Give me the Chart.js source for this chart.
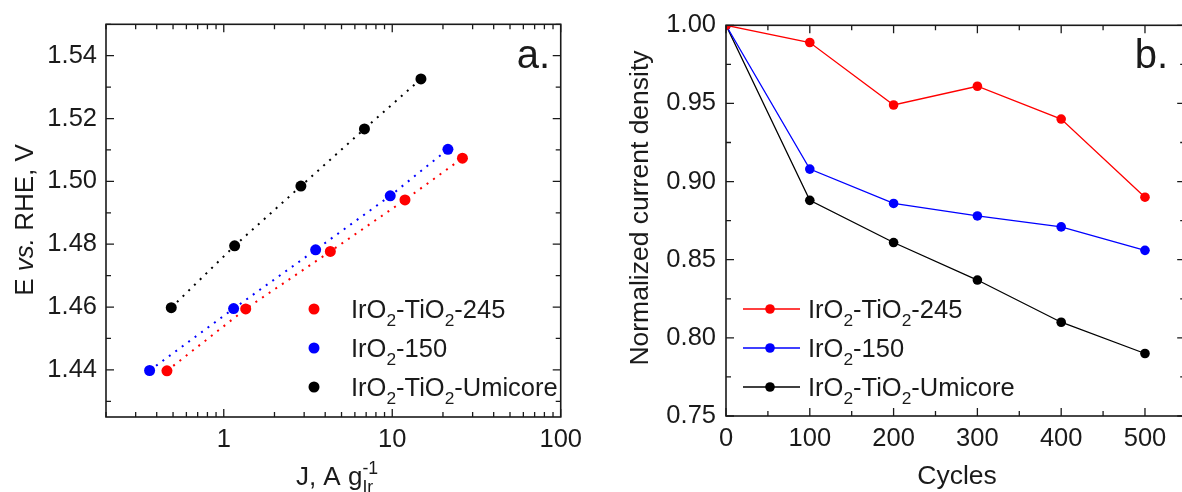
<!DOCTYPE html>
<html>
<head>
<meta charset="utf-8">
<script src="https://cdn.jsdelivr.net/npm/chart.js@4.4.0/dist/chart.umd.min.js"></script>
<style>
  html, body { margin: 0; padding: 0; background: #fff; }
  body { width: 1182px; height: 492px; overflow: hidden; position: relative; }
  canvas { position: absolute; top: 0; }
  #chartA { left: 0; }
  #chartB { left: 590px; }
</style>
</head>
<body>
<canvas id="chartA" width="590" height="492"></canvas>
<canvas id="chartB" width="600" height="492"></canvas>
<script>
// ---- dados: painel a (Tafel) ----
const jRed   = [0.46, 1.35, 4.29, 11.9, 26.1];
const eRed   = [1.4397, 1.4594, 1.4777, 1.4941, 1.5074];
const jBlue  = [0.363, 1.144, 3.51, 9.73, 21.4];
const eBlue  = [1.4398, 1.4595, 1.4782, 1.4954, 1.5102];
const jBlack = [0.488, 1.16, 2.87, 6.84, 14.8];
const eBlack = [1.4598, 1.4795, 1.4985, 1.5167, 1.5326];
const jTicks = [1, 10, 100];
const eTicks = [1.44, 1.46, 1.48, 1.50, 1.52, 1.54];

// ---- dados: painel b (estabilidade) ----
const cycles    = [0, 100, 200, 300, 400, 500];
const normRed   = [1.00, 0.989, 0.949, 0.961, 0.940, 0.890];
const normBlue  = [1.00, 0.908, 0.886, 0.878, 0.871, 0.856];
const normBlack = [1.00, 0.888, 0.861, 0.837, 0.810, 0.790];
const cycleTicks = [0, 100, 200, 300, 400, 500];
const normTicks  = [0.75, 0.80, 0.85, 0.90, 0.95, 1.00];

const labels = ['IrO_{2}-TiO_{2}-245', 'IrO_{2}-150', 'IrO_{2}-TiO_{2}-Umicore'];
const colors = ['#ff0000', '#0000ff', '#000000'];

const FONT = '"Liberation Sans", Arial, Helvetica, sans-serif';
const INK = '#1a1a1a';

const pts = (xs, ys) => xs.map((v, i) => ({ x: v, y: ys[i] }));

// texto com sub/sobrescrito: _{..} ^{..} ~italico~
function layoutRich(ctx, s, size) {
    const re = /_\{([^}]*)\}|\^\{([^}]*)\}|~([^~]*)~|([^_^~]+)/g;
    const parts = [];
    let m;
    while ((m = re.exec(s))) {
        if (m[1] !== undefined) parts.push({ t: m[1], mode: 'sub' });
        else if (m[2] !== undefined) parts.push({ t: m[2], mode: 'sup' });
        else if (m[3] !== undefined) parts.push({ t: m[3], mode: 'n', it: true });
        else parts.push({ t: m[4], mode: 'n' });
    }
    let x = 0, prev = null;
    for (const p of parts) {
        p.size = p.mode === 'n' ? size : size * 0.68;
        p.font = (p.it ? 'italic ' : '') + p.size + 'px ' + FONT;
        ctx.font = p.font;
        p.w = ctx.measureText(p.t).width;
        if (prev && prev.mode !== 'n' && p.mode !== 'n' && prev.mode !== p.mode) {
            p.x = prev.x;
            x = prev.x + Math.max(prev.w, p.w);
        } else {
            p.x = x;
            x += p.w;
        }
        p.dy = p.mode === 'sub' ? size * 0.3 : p.mode === 'sup' ? -size * 0.42 : 0;
        prev = p;
    }
    return { parts, width: x };
}

function drawRich(ctx, s, x, y, size, align, rot) {
    const L = layoutRich(ctx, s, size);
    ctx.save();
    ctx.translate(x, y);
    if (rot) ctx.rotate(rot);
    const x0 = align === 'center' ? -L.width / 2 : align === 'right' ? -L.width : 0;
    ctx.fillStyle = INK;
    ctx.textBaseline = 'alphabetic';
    ctx.textAlign = 'left';
    L.parts.forEach(p => {
        ctx.font = p.font;
        ctx.fillText(p.t, x0 + p.x, p.dy);
    });
    ctx.restore();
}

function minorLog(min, max) {
    const out = [];
    for (let d = 0.1; d < max; d *= 10) {
        for (let k = 2; k <= 9; k++) {
            const v = +(k * d).toPrecision(3);
            if (v >= min && v <= max) out.push(v);
        }
    }
    return out;
}
function steps(a, b, s) {
    const out = [];
    for (let v = a; v <= b + 1e-9; v += s) out.push(+v.toFixed(4));
    return out;
}

// moldura com ticks para dentro, legenda e textos
const framePlugin = {
    id: 'frame',
    afterDraw(chart, args, o) {
        const { ctx, chartArea: a } = chart;
        const sx = chart.scales.x, sy = chart.scales.y;
        ctx.save();
        ctx.strokeStyle = INK;
        ctx.lineWidth = 1.6;
        ctx.strokeRect(a.left, a.top, a.right - a.left, a.bottom - a.top);
        ctx.lineWidth = 1.3;
        const tx = (vals, len) => vals.forEach(v => {
            const p = sx.getPixelForValue(v);
            if (p < a.left - 0.5 || p > a.right + 0.5) return;
            ctx.beginPath();
            ctx.moveTo(p, a.bottom); ctx.lineTo(p, a.bottom - len);
            ctx.moveTo(p, a.top); ctx.lineTo(p, a.top + len);
            ctx.stroke();
        });
        const ty = (vals, len) => vals.forEach(v => {
            const p = sy.getPixelForValue(v);
            if (p < a.top - 0.5 || p > a.bottom + 0.5) return;
            ctx.beginPath();
            ctx.moveTo(a.left, p); ctx.lineTo(a.left + len, p);
            ctx.moveTo(a.right, p); ctx.lineTo(a.right - len, p);
            ctx.stroke();
        });
        tx(o.xMajor, 8); tx(o.xMinor, 5);
        ty(o.yMajor, 8); ty(o.yMinor, 5);
        ctx.restore();

        // legenda
        const lg = o.legend;
        chart.data.datasets.forEach((ds, i) => {
            const yy = lg.rows[i];
            ctx.save();
            ctx.fillStyle = ds.backgroundColor;
            ctx.strokeStyle = ds.borderColor;
            if (lg.line) {
                ctx.lineWidth = 1.3;
                ctx.beginPath();
                ctx.moveTo(lg.line[0], yy); ctx.lineTo(lg.line[1], yy);
                ctx.stroke();
            }
            ctx.beginPath();
            ctx.arc(lg.markX, yy, ds.pointRadius, 0, Math.PI * 2);
            ctx.fill();
            ctx.restore();
            drawRich(ctx, ds.label, lg.textX, yy + 9, 25.5, 'left');
        });

        // títulos dos eixos e letra do painel
        drawRich(ctx, o.xTitle, o.xTitlePos[0], o.xTitlePos[1], o.titleSize, 'center');
        drawRich(ctx, o.yTitle, o.yTitlePos[0], o.yTitlePos[1], o.titleSize, 'center', -Math.PI / 2);
        ctx.save();
        ctx.fillStyle = INK;
        ctx.font = '40px ' + FONT;
        ctx.textAlign = 'right';
        ctx.textBaseline = 'alphabetic';
        ctx.fillText(o.panel, o.panelPos[0], o.panelPos[1]);
        ctx.restore();
    }
};

const tickFont = { family: FONT, size: 25.5 };

// ------------- Painel a -------------
new Chart(document.getElementById('chartA'), {
    type: 'scatter',
    plugins: [framePlugin],
    data: {
        datasets: [
            { label: labels[0], data: pts(jRed, eRed) },
            { label: labels[1], data: pts(jBlue, eBlue) },
            { label: labels[2], data: pts(jBlack, eBlack) }
        ].map((d, i) => Object.assign(d, {
            showLine: true,
            borderColor: colors[i],
            backgroundColor: colors[i],
            borderWidth: 2,
            borderDash: [2, 6],
            pointRadius: 5.5,
            pointBorderWidth: 0,
            pointHoverRadius: 5.5
        }))
    },
    options: {
        responsive: false,
        animation: false,
        layout: { padding: { top: 23, right: 21, left: 0, bottom: 0 } },
        plugins: {
            legend: { display: false },
            tooltip: { enabled: false },
            frame: {
                xMajor: jTicks, xMinor: minorLog(0.2, 100),
                yMajor: eTicks, yMinor: steps(1.43, 1.55, 0.02),
                legend: { markX: 314, textX: 351, rows: [309, 348, 387] },
                titleSize: 26,
                xTitle: 'J, A g_{Ir}^{-1}', xTitlePos: [337, 485],
                yTitle: 'E ~vs.~ RHE, V', yTitlePos: [33, 220],
                panel: 'a.', panelPos: [550, 68]
            }
        },
        scales: {
            x: {
                type: 'logarithmic', min: 0.2, max: 100,
                afterBuildTicks: s => { s.ticks = jTicks.map(v => ({ value: v })); },
                afterFit: s => { s.height = 75; },
                grid: { display: false, drawTicks: false },
                border: { display: false },
                ticks: { callback: v => String(v), font: tickFont, color: INK, padding: 8, maxRotation: 0, autoSkip: false }
            },
            y: {
                min: 1.425, max: 1.55,
                afterBuildTicks: s => { s.ticks = eTicks.map(v => ({ value: v })); },
                afterFit: s => { s.width = 106; },
                grid: { display: false, drawTicks: false },
                border: { display: false },
                ticks: { callback: v => v.toFixed(2), font: tickFont, color: INK, padding: 9 }
            }
        }
    }
});

// ------------- Painel b -------------
new Chart(document.getElementById('chartB'), {
    type: 'scatter',
    plugins: [framePlugin],
    data: {
        datasets: [
            { label: labels[0], data: pts(cycles, normRed) },
            { label: labels[1], data: pts(cycles, normBlue) },
            { label: labels[2], data: pts(cycles, normBlack) }
        ].map((d, i) => Object.assign(d, {
            showLine: true,
            borderColor: colors[i],
            backgroundColor: colors[i],
            borderWidth: 1.3,
            pointRadius: 4.8,
            pointBorderWidth: 0,
            pointHoverRadius: 4.8
        }))
    },
    options: {
        responsive: false,
        animation: false,
        layout: { padding: { top: 23, right: 2, left: 0, bottom: 0 } },
        plugins: {
            legend: { display: false },
            tooltip: { enabled: false },
            frame: {
                xMajor: cycleTicks, xMinor: steps(50, 550, 100),
                yMajor: normTicks, yMinor: steps(0.775, 0.975, 0.05),
                legend: { markX: 180, line: [153, 210], textX: 218, rows: [309, 348, 387] },
                titleSize: 26.5,
                xTitle: 'Cycles', xTitlePos: [367, 484],
                yTitle: 'Normalized current density', yTitlePos: [58, 208],
                panel: 'b.', panelPos: [578, 68]
            }
        },
        scales: {
            x: {
                type: 'linear', min: 0, max: 548,
                afterBuildTicks: s => { s.ticks = cycleTicks.map(v => ({ value: v })); },
                afterFit: s => { s.height = 76; },
                grid: { display: false, drawTicks: false },
                border: { display: false },
                ticks: { callback: v => String(v), font: tickFont, color: INK, padding: 8, maxRotation: 0, autoSkip: false }
            },
            y: {
                min: 0.75, max: 1.00,
                afterBuildTicks: s => { s.ticks = normTicks.map(v => ({ value: v })); },
                afterFit: s => { s.width = 136; },
                grid: { display: false, drawTicks: false },
                border: { display: false },
                ticks: { callback: v => v.toFixed(2), font: tickFont, color: INK, padding: 10 }
            }
        }
    }
});
</script>
</body>
</html>
